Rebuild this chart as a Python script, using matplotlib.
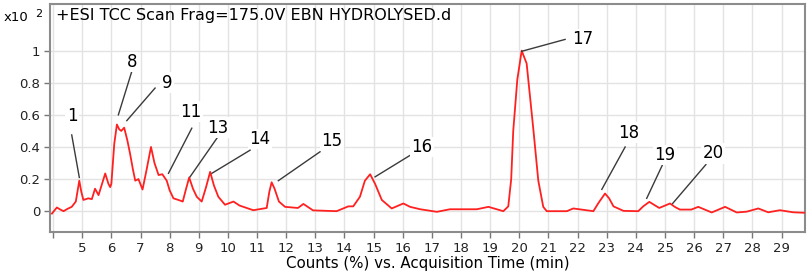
import numpy as np
import matplotlib
matplotlib.use('Agg')
import matplotlib.pyplot as plt

# trace (time in min, counts x10^2)
time_min = [3.96, 4.13, 4.25, 4.36, 4.5, 4.64, 4.78, 4.9, 4.97, 5.04, 5.21, 5.33, 5.44, 5.56,
            5.68, 5.79, 5.9, 5.96, 6.0, 6.1, 6.19, 6.27, 6.34, 6.44, 6.55, 6.64, 6.74, 6.82,
            6.93, 7.07, 7.2, 7.36, 7.48, 7.62, 7.75, 7.9, 8.0, 8.13, 8.3, 8.45, 8.55, 8.67,
            8.8, 8.93, 9.1, 9.25, 9.39, 9.52, 9.67, 9.9, 10.19, 10.4, 10.87, 11.33, 11.42,
            11.5, 11.6, 11.75, 11.96, 12.4, 12.59, 12.92, 13.73, 14.13, 14.3, 14.53, 14.7,
            14.88, 15.05, 15.28, 15.62, 16.02, 16.25, 16.6, 17.17, 17.62, 18.54, 18.94, 19.45,
            19.62, 19.72, 19.79, 19.93, 20.08, 20.25, 20.48, 20.65, 20.82, 20.94, 21.63, 21.85,
            22.54, 22.71, 22.94, 23.08, 23.23, 23.57, 24.08, 24.25, 24.46, 24.62, 24.8, 25.0,
            25.17, 25.35, 25.51, 25.9, 26.14, 26.6, 27.06, 27.46, 27.8, 28.2, 28.54, 28.94,
            29.4, 29.8]
counts = [-0.015, 0.023, 0.01, 0.0, 0.015, 0.027, 0.06, 0.19, 0.12, 0.07, 0.08, 0.075, 0.14, 0.10,
          0.17, 0.235, 0.17, 0.15, 0.17, 0.42, 0.54, 0.51, 0.50, 0.52, 0.44, 0.36, 0.26, 0.19,
          0.20, 0.135, 0.25, 0.40, 0.30, 0.225, 0.23, 0.19, 0.13, 0.08, 0.07, 0.06, 0.13, 0.21,
          0.14, 0.09, 0.06, 0.15, 0.245, 0.16, 0.09, 0.04, 0.06, 0.035, 0.006, 0.02, 0.12,
          0.18, 0.14, 0.06, 0.027, 0.02, 0.045, 0.005, 0.0, 0.03, 0.03, 0.09, 0.19,
          0.23, 0.17, 0.07, 0.017, 0.048, 0.027, 0.012, -0.004, 0.012, 0.012, 0.027, 0.0,
          0.03, 0.2, 0.5, 0.82, 1.0, 0.92, 0.51, 0.19, 0.027, 0.0, 0.0, 0.017,
          0.0, 0.05, 0.11, 0.08, 0.03, 0.002, 0.0, 0.03, 0.058, 0.04, 0.02, 0.035,
          0.048, 0.025, 0.01, 0.01, 0.027, -0.008, 0.027, -0.008, -0.003, 0.017, -0.007, 0.006,
          -0.007, -0.01]

# peak labels: name, text position, leader line (top end, peak end)
peak_names = ['1', '8', '9', '11', '13', '14', '15', '16', '17', '18', '19', '20']
label_xy = [(4.65, 0.59), (6.70, 0.93), (7.91, 0.80), (8.74, 0.62), (9.66, 0.52), (11.1, 0.45),
            (13.57, 0.44), (16.66, 0.40), (22.18, 1.07), (23.76, 0.49), (25.0, 0.35), (26.64, 0.36)]
line_top = [(4.64, 0.475), (6.70, 0.87), (7.5, 0.767), (8.76, 0.517), (9.62, 0.454), (10.76, 0.38),
            (13.16, 0.37), (16.36, 0.36), (21.57, 1.07), (23.63, 0.40), (24.94, 0.30), (26.4, 0.29)]
line_peak = [(4.9, 0.21), (6.24, 0.6), (6.53, 0.564), (7.96, 0.236), (8.70, 0.214), (9.45, 0.236),
             (11.73, 0.19), (15.05, 0.214), (20.08, 0.996), (22.83, 0.136), (24.37, 0.08), (25.26, 0.048)]

fig = plt.figure(figsize=(8.09, 2.73), dpi=100)
ax = fig.add_axes([0.062, 0.150, 0.933, 0.835])

ax.plot(time_min, counts, color='#ff2020', lw=1.3, zorder=3)

for name, (tx, ty), (x1, y1), (x2, y2) in zip(peak_names, label_xy, line_top, line_peak):
    ax.plot([x1, x2], [y1, y2], color='#3a3a3a', lw=1.0, zorder=4)
    ax.text(tx, ty, name, fontsize=12, ha='center', va='center', zorder=5,
            bbox=dict(facecolor='white', edgecolor='none', pad=1.0))

ax.set_xlim(3.9, 29.8)
ax.set_ylim(-0.13, 1.29)
ax.set_xticks(np.arange(4, 30))
ax.set_xticklabels([''] + [str(i) for i in range(5, 30)])
ax.set_yticks([0, 0.2, 0.4, 0.6, 0.8, 1.0])
ax.set_yticklabels(['0', '0.2', '0.4', '0.6', '0.8', '1'])
ax.tick_params(labelsize=9.5, colors='#222222', length=4, width=1, pad=3)
ax.tick_params(axis='both', color='#777777')
ax.grid(color='#e3e3e3', lw=1.0, zorder=0)
for sp in ax.spines.values():
    sp.set_color('#8c8c8c')
    sp.set_linewidth(1.5)

ax.set_xlabel('Counts (%) vs. Acquisition Time (min)', fontsize=10.8, labelpad=1)
ax.text(0.008, 0.952, '+ESI TCC Scan Frag=175.0V EBN HYDROLYSED.d', transform=ax.transAxes,
        fontsize=11.5, ha='left', va='center', zorder=6)
fig.text(0.004, 0.935, 'x10', fontsize=9.5, ha='left', va='center')
fig.text(0.044, 0.950, '2', fontsize=8, ha='left', va='center')

fig.savefig('out.png', dpi=100)
